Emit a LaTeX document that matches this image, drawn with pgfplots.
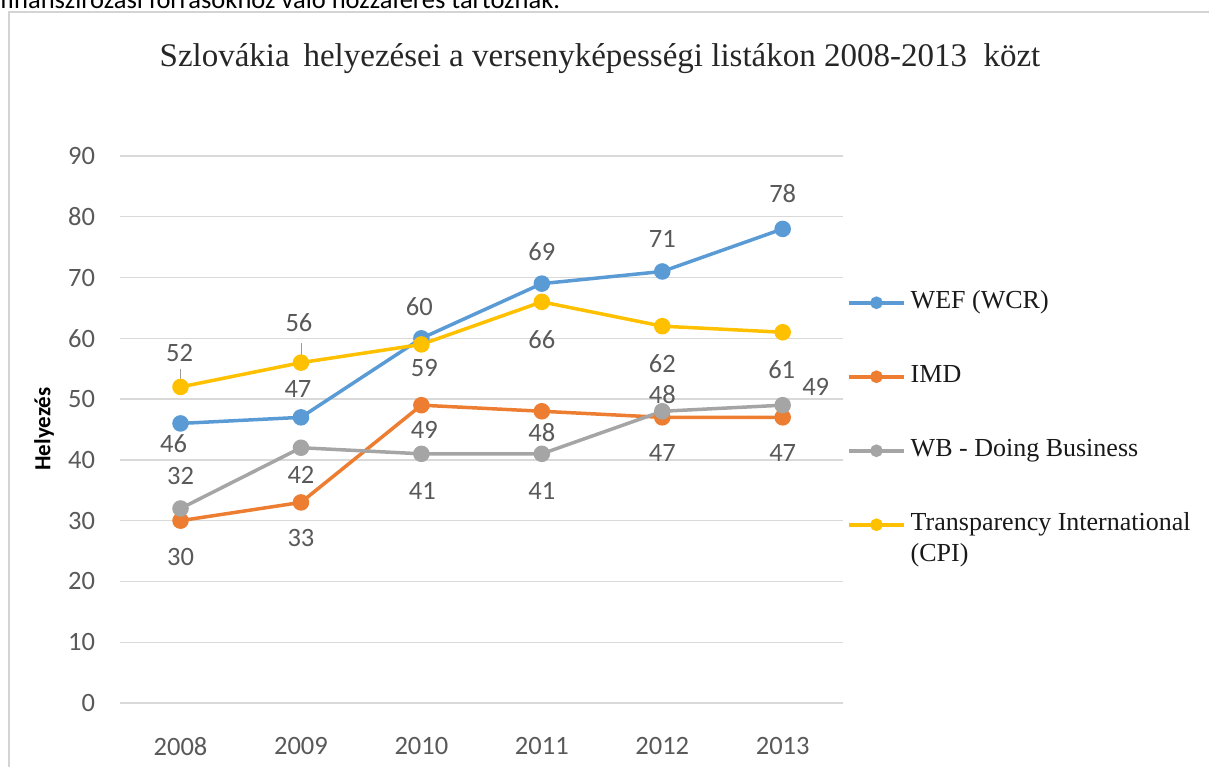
\documentclass[border=0pt]{standalone}
\usepackage{pgfplots}
\pgfplotsset{compat=1.18}
\usepackage{pgfplotstable}
\usepackage{fontspec}
\setmainfont{Liberation Serif}
\newfontfamily\carlito{Carlito}
\definecolor{wefblue}{HTML}{5B9BD5}
\definecolor{imdorange}{HTML}{ED7D31}
\definecolor{wbgray}{HTML}{A5A5A5}
\definecolor{tigold}{HTML}{FFC000}
\definecolor{gridgray}{HTML}{D9D9D9}
\definecolor{labelgray}{HTML}{595959}
\definecolor{framegray}{HTML}{D4D4D4}

\pgfplotstableread{
x y dx dy
0 46 -7 -20
1 47 -3 28
2 60 -2 32
3 69 0 32
4 71 0 33
5 78 0 35
}\wef
\pgfplotstableread{
x y dx dy
0 30 0 -36
1 33 0 -36
2 49 3 -25
3 48 0 -21
4 47 0 -36
5 47 0 -36
}\imd
\pgfplotstableread{
x y dx dy
0 32 0 33
1 42 0 -27
2 41 1 -37
3 41 0 -37
4 48 0 17
5 49 33 18
}\wb
\pgfplotstableread{
x y dx dy
0 52 -1 34
1 56 -2 40
2 59 3 -24
3 66 0 -38
4 62 0 -37
5 61 -1 -37
}\ti

\pgfplotsset{
  series/.style={color=#1, line width=3.5pt, mark=*, mark size=6.5pt, mark options={fill=#1, draw=#1},
    nodes near coords={\pgfmathprintnumber[fixed,precision=0]{\pgfplotspointmeta}},
    visualization depends on={\thisrow{dx} \as \dx},
    visualization depends on={\thisrow{dy} \as \dy},
    nodes near coords style={anchor=center, inner sep=0pt, xshift=\dx pt, yshift=\dy pt, font=\carlito\fontsize{26.5}{30}\selectfont, text=labelgray}},
}

\begin{document}
\begin{tikzpicture}[x=1pt,y=1pt]
\useasboundingbox (0,0) rectangle (1209,766);
% partially visible text above the chart
\node[anchor=base west, inner sep=0pt, font=\carlito\fontsize{26.5}{30}\selectfont] at (0,757.5) {finanszírozási forrásokhoz való hozzáférés tartoznak.};
% frame
\draw[line width=2pt, framegray] (9,-5) -- (9,754) -- (1215,754);
% title
\node[font=\fontsize{33}{38}\selectfont, text=black!85, inner sep=0pt] at (600,707) {Szlovákia\, helyezései a versenyképességi listákon 2008-2013\ \ közt};
% y label
\node[rotate=90, font=\carlito\bfseries\fontsize{23}{28}\selectfont, inner sep=0pt] at (44,337) {Helyezés};

\begin{axis}[
  at={(120.3pt,63pt)}, anchor=south west,
  scale only axis, width=722.6pt, height=547pt,
  xmin=-0.5, xmax=5.5, ymin=0, ymax=90,
  xtick={0,...,5}, xticklabels={2008,2009,2010,2011,2012,2013},
  ytick={0,10,...,90},
  /pgf/number format/assume math mode=true,
  axis line style={draw=none},
  tick style={draw=none},
  ymajorgrids, grid style={gridgray, line width=1.4pt},
  ticklabel style={font=\carlito\fontsize{26.5}{30}\selectfont, text=labelgray, inner sep=0pt},
  yticklabel style={xshift=-25pt},
  xticklabel style={yshift=-34pt},
  clip=false,
  legend image code/.code={\draw[mark repeat=2, mark phase=2, #1, mark size=4.5pt] plot coordinates {(0pt,0pt) (27.5pt,0pt) (55pt,0pt)};},
  legend cell align=left,
  legend style={draw=none, fill=none, inner sep=0pt, at={(axis description cs:1.0057,0.754)}, anchor=north west,
    font=\fontsize{26}{30}\selectfont, text=black!90,
    /tikz/row sep=50pt, /tikz/column sep=5pt,
    nodes={inner sep=0pt, text height=18pt, text depth=6pt}},
]
\addplot[series=wefblue] table[x=x,y=y] {\wef};
\addlegendentry{WEF (WCR)}
\addplot[series=imdorange] table[x=x,y=y] {\imd};
\addlegendentry{IMD}
\addplot[series=wbgray] table[x=x,y=y] {\wb};
\addlegendentry{WB - Doing Business}
\addplot[series=tigold] table[x=x,y=y] {\ti};
\addlegendentry{\smash{\rlap{\raisebox{-31pt}{(CPI)}}}Transparency International}
% leader lines
\addplot[labelgray!60, line width=0.8pt, forget plot] coordinates {(0,53.3) (0,54.9)};
\addplot[labelgray!60, line width=0.8pt, forget plot] coordinates {(1,57.3) (1,59.2)};
\end{axis}
\end{tikzpicture}
\end{document}
